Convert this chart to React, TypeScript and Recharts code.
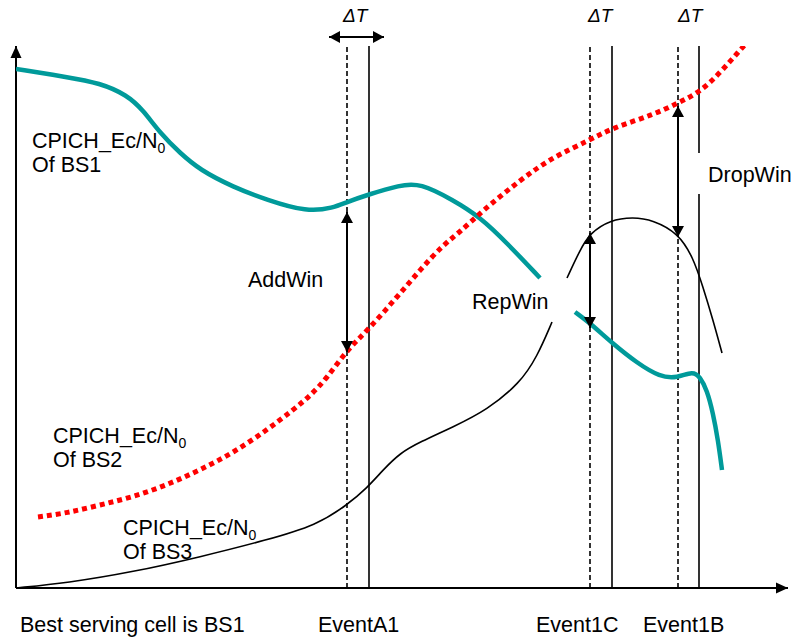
import { LineChart, Line, XAxis, YAxis, ReferenceLine, ReferenceDot } from 'recharts';

// time runs 0..770 to the right of the origin, level 0..542 above it

const bs1 = [
  { x: 0, y: 519 }, { x: 51, y: 511 }, { x: 84, y: 505 }, { x: 111, y: 493 }, { x: 127, y: 478 },
  { x: 144, y: 455 }, { x: 164, y: 435 }, { x: 184, y: 418 }, { x: 217, y: 401 }, { x: 251, y: 388 },
  { x: 291, y: 376 }, { x: 317, y: 380 }, { x: 331, y: 386 }, { x: 351, y: 393 }, { x: 384, y: 403 },
  { x: 404, y: 405 }, { x: 437, y: 388 }, { x: 464, y: 371 }, { x: 491, y: 345 }, { x: 524, y: 310 },
  { x: 540, y: null },
  { x: 559, y: 276 }, { x: 574, y: 265 }, { x: 596, y: 245 }, { x: 621, y: 225 }, { x: 644, y: 211 },
  { x: 661, y: 210 }, { x: 677, y: 217 }, { x: 684, y: 211 }, { x: 691, y: 198 }, { x: 697, y: 175 },
  { x: 702, y: 148 }, { x: 706, y: 118 },
];

const bs2 = [
  { x: 22, y: 71 }, { x: 51, y: 75 }, { x: 84, y: 83 }, { x: 117, y: 91 }, { x: 151, y: 103 },
  { x: 184, y: 118 }, { x: 217, y: 135 }, { x: 251, y: 158 }, { x: 277, y: 178 }, { x: 294, y: 192 },
  { x: 311, y: 210 }, { x: 331, y: 238 }, { x: 352, y: 258 }, { x: 381, y: 291 }, { x: 404, y: 318 },
  { x: 427, y: 343 }, { x: 444, y: 356 }, { x: 464, y: 375 }, { x: 504, y: 408 }, { x: 537, y: 431 },
  { x: 574, y: 448 }, { x: 596, y: 460 }, { x: 637, y: 473 }, { x: 662, y: 485 }, { x: 684, y: 496 },
  { x: 704, y: 515 }, { x: 724, y: 538 }, { x: 729, y: 543 },
];

const bs3 = [
  { x: 0, y: 0 }, { x: 51, y: 5 }, { x: 117, y: 16 }, { x: 184, y: 31 }, { x: 251, y: 48 },
  { x: 301, y: 63 }, { x: 331, y: 83 }, { x: 351, y: 100 }, { x: 367, y: 118 }, { x: 384, y: 135 },
  { x: 404, y: 146 }, { x: 437, y: 161 }, { x: 471, y: 178 }, { x: 504, y: 205 }, { x: 521, y: 231 },
  { x: 536, y: 266 },
  { x: 543, y: null },
  { x: 551, y: 310 }, { x: 564, y: 338 }, { x: 574, y: 355 }, { x: 594, y: 368 }, { x: 617, y: 371 },
  { x: 637, y: 368 }, { x: 662, y: 355 }, { x: 677, y: 331 }, { x: 687, y: 301 }, { x: 697, y: 268 },
  { x: 706, y: 235 },
];

const triggerTimes = [331, 574, 662]; // dashed
const reportTimes = [353, 596, 683]; // solid, ΔT later
const markTop = 541;
const dropWinGap = [394, 435];

const windows = [
  { x: 331, from: 236, to: 376 },
  { x: 574, from: 260, to: 355 },
  { x: 662, from: 351, to: 482 },
];

const curveLabels = [
  { x: 16, y: 440, name: 'BS1' },
  { x: 37, y: 145, name: 'BS2' },
  { x: 107, y: 53, name: 'BS3' },
];
const windowLabels = [
  { x: 232, y: 301, text: 'AddWin' },
  { x: 456, y: 279, text: 'RepWin' },
  { x: 692, y: 406, text: 'DropWin' },
];
const eventLabels = [
  { x: 4, text: 'Best serving cell is BS1' },
  { x: 302, text: 'EventA1' },
  { x: 520, text: 'Event1C' },
  { x: 627, text: 'Event1B' },
];
const eventLabelLevel = -44;
const deltaLabels = [327, 572, 662];
const deltaLabelLevel = 566;
const deltaArrow = { from: 313, to: 368, y: 551 };

const FONT = '"Liberation Sans", Arial, sans-serif';
const TEAL = '#009a9a';

const arrow = (both: boolean, w = 2, len = 11, half = 6) => (p: any) => {
  const { x1, y1, x2, y2 } = p;
  const a = Math.atan2(y2 - y1, x2 - x1);
  const head = (x: number, y: number, ang: number) => {
    const bx = x - len * Math.cos(ang);
    const by = y - len * Math.sin(ang);
    const ox = -Math.sin(ang) * half;
    const oy = Math.cos(ang) * half;
    return <polygon points={`${x},${y} ${bx + ox},${by + oy} ${bx - ox},${by - oy}`} fill="#000" />;
  };
  return (
    <g>
      <line x1={x1} y1={y1} x2={x2} y2={y2} stroke="#000" strokeWidth={w} />
      {head(x2, y2, a)}
      {both && head(x1, y1, a + Math.PI)}
    </g>
  );
};

const plainLine = (dash?: string) => (p: any) => (
  <line x1={p.x1} y1={p.y1} x2={p.x2} y2={p.y2} stroke="#000" strokeWidth={1.6} strokeDasharray={dash} />
);

const textAt = (lines: string[], opts: { size?: number; italic?: boolean; sub?: boolean; gap?: number } = {}) =>
  (p: any) => (
    <g>
      {lines.map((t, i) => (
        <text
          key={i}
          x={p.cx}
          y={p.cy + i * (opts.gap ?? 24)}
          fontFamily={FONT}
          fontSize={opts.size ?? 21.5}
          fontStyle={opts.italic ? 'italic' : 'normal'}
          fill="#000"
        >
          {t}
          {opts.sub && i === 0 && (
            <tspan fontSize={14} dy={5}>0</tspan>
          )}
        </text>
      ))}
    </g>
  );

export default function App() {
  return (
    <div style={{ position: 'absolute', left: 0, top: 0, background: '#fff' }}>
      <LineChart width={799} height={642} margin={{ top: 46, right: 13, bottom: 54, left: 16 }}>
        <XAxis type="number" dataKey="x" domain={[0, 770]} allowDataOverflow hide />
        <YAxis type="number" dataKey="y" domain={[0, 542]} allowDataOverflow hide />

        {/* axes */}
        <ReferenceLine ifOverflow="visible" segment={[{ x: 0, y: 0 }, { x: 772, y: 0 }]} shape={arrow(false, 2, 12, 5.5)} />
        <ReferenceLine ifOverflow="visible" segment={[{ x: 0, y: 0 }, { x: 0, y: 542 }]} shape={arrow(false, 2, 12, 5.5)} />

        {/* event markers */}
        {triggerTimes.map((t) => (
          <ReferenceLine key={'d' + t} ifOverflow="visible" segment={[{ x: t, y: 0 }, { x: t, y: markTop }]} shape={plainLine('5 3')} />
        ))}
        {reportTimes.map((t, i) =>
          i === 2 ? (
            [
              <ReferenceLine key={'s' + t + 'a'} ifOverflow="visible" segment={[{ x: t, y: 0 }, { x: t, y: dropWinGap[0] }]} shape={plainLine()} />,
              <ReferenceLine key={'s' + t + 'b'} ifOverflow="visible" segment={[{ x: t, y: dropWinGap[1] }, { x: t, y: markTop + 1 }]} shape={plainLine()} />,
            ]
          ) : (
            <ReferenceLine key={'s' + t} ifOverflow="visible" segment={[{ x: t, y: 0 }, { x: t, y: markTop + 1 }]} shape={plainLine()} />
          )
        )}

        <Line data={bs3} dataKey="y" type="basis" stroke="#000" strokeWidth={1.6} dot={false} isAnimationActive={false} />
        <Line data={bs1} dataKey="y" type="basis" stroke={TEAL} strokeWidth={4.5} dot={false} isAnimationActive={false} />
        <Line
          data={bs2}
          dataKey="y"
          type="basis"
          stroke="#ff0000"
          strokeWidth={5}
          strokeDasharray="5 4"
          dot={false}
          isAnimationActive={false}
        />

        {/* windows */}
        {windows.map((w) => (
          <ReferenceLine
            key={'w' + w.x}
            ifOverflow="visible"
            segment={[{ x: w.x, y: w.from }, { x: w.x, y: w.to }]}
            shape={arrow(true, 2, 11, 6)}
          />
        ))}
        <ReferenceLine
          ifOverflow="visible"
          segment={[{ x: deltaArrow.from, y: deltaArrow.y }, { x: deltaArrow.to, y: deltaArrow.y }]}
          shape={arrow(true, 2, 11, 6)}
        />

        {/* text */}
        {curveLabels.map((l) => (
          <ReferenceDot key={l.name} x={l.x} y={l.y} r={0} ifOverflow="visible" shape={textAt(['CPICH_Ec/N', 'Of ' + l.name], { sub: true })} />
        ))}
        {windowLabels.map((l) => (
          <ReferenceDot key={l.text} x={l.x} y={l.y} r={0} ifOverflow="visible" shape={textAt([l.text])} />
        ))}
        {eventLabels.map((l) => (
          <ReferenceDot key={l.text} x={l.x} y={eventLabelLevel} r={0} ifOverflow="visible" shape={textAt([l.text])} />
        ))}
        {deltaLabels.map((x) => (
          <ReferenceDot key={'dt' + x} x={x} y={deltaLabelLevel} r={0} ifOverflow="visible" shape={textAt(['ΔT'], { size: 19, italic: true })} />
        ))}
      </LineChart>
    </div>
  );
}
